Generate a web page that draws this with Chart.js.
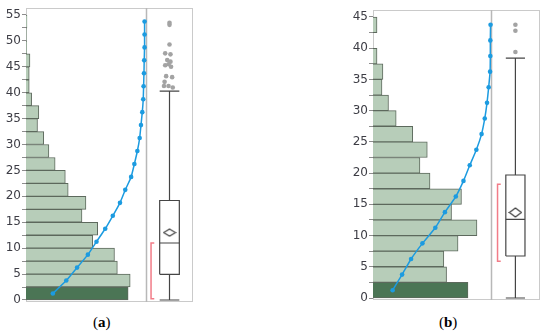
<!DOCTYPE html>
<html>
<head>
<meta charset="utf-8">
<script src="https://cdn.jsdelivr.net/npm/chart.js@4.4.0/dist/chart.umd.min.js"></script>
<style>
  body { margin: 0; background: #fff; width: 550px; height: 335px; position: relative; overflow: hidden; }
  .panel { position: absolute; top: 0; width: 200px; height: 310px; }
  .cap { position: absolute; top: 314px; font-family: "Liberation Serif", serif; font-size: 15px; color: #000; }
</style>
</head>
<body>
<div class="panel" style="left:0"><canvas id="chartA"></canvas></div>
<div class="panel" style="left:347px"><canvas id="chartB"></canvas></div>
<div class="cap" style="left:93px">(<b>a</b>)</div>
<div class="cap" style="left:439px">(<b>b</b>)</div>
<script>
// ---- panel (a) data ----
const binsA = [1.25, 3.75, 6.25, 8.75, 11.25, 13.75, 16.25, 18.75, 21.25, 23.75, 26.25,
               28.75, 31.25, 33.75, 36.25, 38.75, 41.25, 43.75, 46.25, 48.75, 51.25, 53.75];
const countsA = [85.2, 86.9, 76.2, 73.8, 55.7, 59.8, 46.7, 50.0, 35.2, 32.8, 24.3,
                 19.1, 14.8, 9.6, 10.7, 4.7, 2.7, 2.7, 3.3, 0.6, 0.3, 0.8];
const cumA = [22.4, 33.6, 42.6, 51.6, 58.8, 66.1, 72.4, 78.4, 82.8, 87.7, 90.4,
              92.9, 94.8, 95.9, 97.0, 97.8, 98.1, 98.4, 98.6, 98.9, 98.9, 98.9];
const boxA = [0, 4.95, 11.0, 19.2, 40.3];        // lo, q1, median, q3, hi
const meanA = 13.0;
const halfA = [0.25, 11.0];                       // shortest half
const outA = [53.5, 53.1, 49.3, 47.6, 47.4, 46.3, 46.0, 45.5, 45.3, 45.0, 43.2, 43.0, 42.1, 41.3, 41.3, 41.0];
const ticksA = [0, 2.5, 5, 7.5, 10, 12.5, 15, 17.5, 20, 22.5, 25, 27.5, 30, 32.5, 35,
                37.5, 40, 42.5, 45, 47.5, 50, 52.5, 55];

// ---- panel (b) data ----
const binsB = [1.25, 3.75, 6.25, 8.75, 11.25, 13.75, 16.25, 18.75, 21.25, 23.75, 26.25,
               28.75, 31.25, 33.75, 36.25, 38.75, 41.25, 43.75];
const countsB = [80.3, 62.2, 59.9, 71.9, 87.9, 66.4, 74.8, 48.2, 39.7, 45.9, 33.6,
                 19.6, 13.1, 7.6, 8.4, 3.4, 0, 3.4];
const cumB = [16.6, 24.6, 32.2, 41.8, 52.7, 60.8, 70.0, 76.5, 81.8, 87.4, 91.8,
              94.5, 96.4, 97.8, 99.0, 99.2, 99.2, 99.4];
const boxB = [0, 6.73, 12.6, 19.7, 38.4];
const meanB = 13.7;
const halfB = [5.9, 18.2];
const outB = [43.75, 42.8, 39.4];
const ticksB = [0, 2.5, 5, 7.5, 10, 12.5, 15, 17.5, 20, 22.5, 25, 27.5, 30, 32.5, 35,
                37.5, 40, 42.5, 45];

// horizontal spread of the outlier dots (x units)
const jitterA = [0, 0, 0, -3.6, 0.8, -1.9, 0.8, -0.8, -3.6, 1.3, -2.8, 2.2, -4.1, -4.6, -0.8, 2.7];
const jitterB = [0, 0, 0];

function diamond(w, h) {
  const c = document.createElement('canvas');
  c.width = w + 2; c.height = h + 2;
  const ctx = c.getContext('2d');
  ctx.beginPath();
  ctx.moveTo(1 + w / 2, 1); ctx.lineTo(1 + w, 1 + h / 2);
  ctx.lineTo(1 + w / 2, 1 + h); ctx.lineTo(1, 1 + h / 2);
  ctx.closePath();
  ctx.fillStyle = '#fff'; ctx.fill();
  ctx.strokeStyle = '#404040'; ctx.lineWidth = 1.2; ctx.stroke();
  return c;
}

const framePlugin = {
  id: 'frame',
  beforeDatasetsDraw(chart, args, opts) {
    const { ctx, chartArea: a, scales } = chart;
    ctx.save();
    ctx.strokeStyle = '#cacaca'; ctx.lineWidth = 1;
    ctx.strokeRect(a.left + 0.5, a.top + 0.5, a.right - a.left - 1, a.bottom - a.top - 1);
    const sx = Math.round(scales.x.getPixelForValue(opts.split)) + 0.5;
    ctx.strokeStyle = '#b8b8b8'; ctx.lineWidth = 1.5;
    ctx.beginPath(); ctx.moveTo(sx, a.top); ctx.lineTo(sx, a.bottom); ctx.stroke();
    ctx.restore();
  }
};

function makePanel(id, d, g) {
  const xc = g.boxX, xl = g.boxX - g.boxHalf, xr = g.boxX + g.boxHalf;
  const [lo, q1, med, q3, hi] = d.box;
  const boxPts = [{x: xl, y: q1}, {x: xr, y: q1}, {x: xr, y: q3}, {x: xl, y: q3}, {x: xl, y: q1}];
  const linePts = [
    {x: xl, y: med}, {x: xr, y: med}, {x: xr, y: null},
    {x: xc, y: lo}, {x: xc, y: q1}, {x: xc, y: null},
    {x: xc, y: q3}, {x: xc, y: hi}, {x: xc, y: null},
    {x: xl, y: lo}, {x: xr, y: lo}, {x: xr, y: null},
    {x: xl, y: hi}, {x: xr, y: hi}
  ];
  const bracket = [{x: g.hookX, y: d.half[0]}, {x: g.bracketX, y: d.half[0]},
                   {x: g.bracketX, y: d.half[1]}, {x: g.hookX, y: d.half[1]}];
  const plain = { type: 'line', pointRadius: 0, fill: false, spanGaps: false };

  new Chart(document.getElementById(id), {
    type: 'line',
    data: {
      datasets: [
        { type: 'scatter', data: [{x: xc, y: d.mean}], pointStyle: diamond(g.dw, g.dh), pointRadius: 6 },
        { type: 'scatter', data: d.out.map((v, i) => ({x: xc + d.jitter[i], y: v})),
          pointRadius: 2.3, pointBackgroundColor: '#a3a3a3', pointBorderWidth: 0 },
        { type: 'line', data: d.bins.map((b, i) => ({x: d.cum[i], y: b})),
          borderColor: '#1c9be0', borderWidth: 1.5, pointRadius: 2.3,
          pointBackgroundColor: '#1c9be0', pointBorderWidth: 0, tension: 0.15 },
        Object.assign({ data: boxPts, borderColor: '#454545', borderWidth: 1.2 }, plain),
        Object.assign({ data: linePts, borderColor: '#454545', borderWidth: 1.2 }, plain),
        Object.assign({ data: bracket, borderColor: '#f27c88', borderWidth: 1.5 }, plain),
        { type: 'bar', indexAxis: 'y', data: d.bins.map((b, i) => ({x: d.counts[i], y: b})),
          barPercentage: 1, categoryPercentage: 1,
          backgroundColor: d.bins.map((b, i) => i === 0 ? '#4b7555' : '#b7cdb9'),
          borderColor: '#5d695d', borderWidth: 1 }
      ]
    },
    options: {
      responsive: true,
      maintainAspectRatio: false,
      animation: false,
      events: [],
      layout: { padding: { left: 0, top: g.top, right: g.right, bottom: g.bottom } },
      plugins: { legend: { display: false }, tooltip: { enabled: false }, frame: { split: 100 } },
      scales: {
        x: { type: 'linear', display: false, min: 0, max: g.xMax, offset: false, grid: { offset: false } },
        y: {
          type: 'linear', min: g.yMin, max: g.yMax, offset: false,
          afterBuildTicks: s => { s.ticks = d.ticks.map(v => ({ value: v })); },
          afterFit: s => { s.width = 26; s.paddingTop = 0; s.paddingBottom = 0; },
          border: { display: false },
          grid: { offset: false, drawOnChartArea: false, drawTicks: true, tickLength: 4, color: '#8c8c8c' },
          ticks: {
            autoSkip: false, padding: 1, color: '#3d3d45',
            font: { family: 'DejaVu Sans', size: 12 },
            callback: v => (v % 5 === 0 ? String(v) : '')
          }
        }
      }
    },
    plugins: [framePlugin]
  });
}

makePanel('chartA',
  { bins: binsA, counts: countsA, cum: cumA, box: boxA, mean: meanA, half: halfA,
    out: outA, jitter: jitterA, ticks: ticksA },
  { xMax: 139.3, yMin: -0.39, yMax: 56.35, top: 8, bottom: 8, right: 4,
    boxX: 119.7, boxHalf: 8.2, bracketX: 104.3, hookX: 107.0, dw: 12, dh: 7 });

makePanel('chartB',
  { bins: binsB, counts: countsB, cum: cumB, box: boxB, mean: meanB, half: halfB,
    out: outB, jitter: jitterB, ticks: ticksB },
  { xMax: 141.2, yMin: -0.32, yMax: 46.12, top: 10, bottom: 10, right: 6,
    boxX: 120.4, boxHalf: 8.1, bracketX: 105.3, hookX: 108.0, dw: 12, dh: 9 });
</script>
</body>
</html>
